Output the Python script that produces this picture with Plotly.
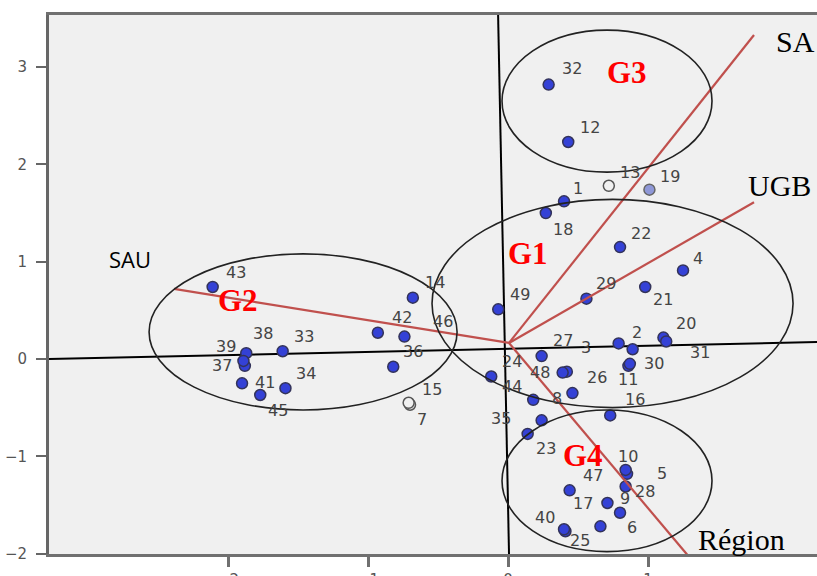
import plotly.graph_objects as go

# ---------------- data ----------------
point_ids = list(range(1, 50))
point_x = [0.40, 0.89, 0.79, 1.25, 0.85, 0.66, -0.70, 0.46, 0.80, 0.84,
           0.86, 0.43, 0.72, -0.68, -0.71, 0.73, 0.71, 0.27, 1.01, 1.11,
           0.98, 0.80, 0.14, -0.12, 0.41, 0.42, 0.24, 0.84, 0.56, 0.87,
           1.13, 0.29, -1.61, -1.59, 0.24, -0.82, -1.88, -1.87, -1.89, 0.40,
           -1.90, -0.93, -2.11, 0.18, -1.77, -0.74, 0.44, 0.39, -0.07]
point_y = [1.62, 0.10, 0.16, 0.91, -1.18, -1.72, -0.47, -0.35, -1.58, -1.14,
           -0.07, 2.23, 1.78, 0.63, -0.45, -0.58, -1.48, 1.50, 1.74, 0.22,
           0.74, 1.15, -0.77, -0.18, -1.77, -0.13, 0.03, -1.31, 0.62, -0.05,
           0.18, 2.82, 0.08, -0.30, -0.63, -0.08, -0.07, 0.06, -0.02, -1.75,
           -0.25, 0.27, 0.74, -0.42, -0.37, 0.23, -1.35, -0.14, 0.51]
hollow_ids = [7, 13, 15]
tinted_ids = [19]

group_names = ["G1", "G2", "G3", "G4"]
group_x0 = [-0.543, -2.564, -0.043, -0.043]
group_x1 = [2.036, -0.364, 1.457, 1.457]
group_y0 = [-0.50, -0.524, 1.92, -1.98]
group_y1 = [1.64, 1.08, 3.38, -0.524]
group_label_x = [0.143, -1.929, 0.85, 0.536]
group_label_y = [1.089, 0.606, 2.94, -0.987]

origin = (0.007, 0.165)
var_names = ["SA", "UGB", "SAU", "Région"]
var_x = [1.757, 1.757, -2.386, 1.279]
var_y = [3.33, 1.61, 0.72, -2.01]
var_label_x = [2.05, 1.936, -2.70, 1.671]
var_label_y = [3.258, 1.778, 1.028, -1.86]

axis_h_x = [-3.279, 2.207]
axis_h_y = [0.0, 0.175]
axis_v_x = [-0.071, 0.007]
axis_v_y = [3.535, -2.004]

x_ticks = [-2, -1, 0, 1]
y_ticks = [-2, -1, 0, 1, 2, 3]

# label offsets in screen pixels (dx right, dy down) - style only
label_offsets = {
    1: (14, -13), 2: (4, -17), 3: (-33, 4), 4: (15, -12), 5: (35, 0),
    6: (32, 1), 7: (12, 15), 8: (-15, 5), 9: (5, -14), 10: (2, -13),
    11: (0, 14), 12: (22, -14), 13: (21, -13), 14: (22, -15), 15: (23, -13),
    16: (25, -16), 17: (-24, 0), 18: (17, 16), 19: (21, -13), 20: (23, -14),
    21: (18, 13), 22: (21, -14), 23: (18, 15), 24: (21, -15), 25: (15, 9),
    26: (30, 6), 27: (21, -16), 28: (19, 5), 29: (20, -15), 30: (24, 0),
    31: (34, 11), 32: (23, -16), 33: (21, -15), 34: (21, -15), 35: (-41, -2),
    36: (20, -15), 37: (-23, 0), 38: (17, -20), 39: (-17, -14), 40: (-19, -12),
    41: (23, -1), 42: (24, -15), 43: (23, -14), 44: (-21, -13), 45: (18, 15),
    46: (39, -15), 47: (23, -15), 48: (-23, 0), 49: (22, -15),
}

# ---------------- figure ----------------
fig = go.Figure()

# biplot axes (black)
fig.add_trace(go.Scatter(x=axis_h_x, y=axis_h_y, mode="lines",
                         line=dict(color="black", width=2), hoverinfo="skip"))
fig.add_trace(go.Scatter(x=axis_v_x, y=axis_v_y, mode="lines",
                         line=dict(color="black", width=2), hoverinfo="skip"))

# points
fill_colors = []
line_colors = []
for pid in point_ids:
    if pid in hollow_ids:
        fill_colors.append("rgba(240,240,240,1)")
        line_colors.append("#555555")
    elif pid in tinted_ids:
        fill_colors.append("#8f98d8")
        line_colors.append("#666666")
    else:
        fill_colors.append("#3441d6")
        line_colors.append("#33335a")

fig.add_trace(go.Scatter(
    x=point_x, y=point_y, mode="markers",
    marker=dict(size=11, color=fill_colors,
                line=dict(color=line_colors, width=1.5)),
    hovertext=[str(p) for p in point_ids], hoverinfo="text"))

# variable vectors (red)
for vx, vy in zip(var_x, var_y):
    fig.add_trace(go.Scatter(x=[origin[0], vx], y=[origin[1], vy], mode="lines",
                             line=dict(color="#c0504d", width=2.2), hoverinfo="skip"))

# group ellipses
for x0, x1, y0, y1 in zip(group_x0, group_x1, group_y0, group_y1):
    fig.add_shape(type="circle", xref="x", yref="y", x0=x0, x1=x1, y0=y0, y1=y1,
                  line=dict(color="#222222", width=1.6), layer="above")

annotations = []
for pid, px, py in zip(point_ids, point_x, point_y):
    dx, dy = label_offsets[pid]
    annotations.append(dict(x=px, y=py, xref="x", yref="y", text=str(pid),
                            showarrow=False, xshift=dx, yshift=-dy,
                            font=dict(family="DejaVu Sans", size=16, color="#444444")))

for name, lx, ly in zip(group_names, group_label_x, group_label_y):
    annotations.append(dict(x=lx, y=ly, xref="x", yref="y", text="<b>%s</b>" % name,
                            showarrow=False,
                            font=dict(family="Liberation Serif", size=31, color="#ff0000")))

for name, lx, ly in zip(var_names, var_label_x, var_label_y):
    fam = "Open Sans" if name == "SAU" else "Liberation Serif"
    size = 22 if name == "SAU" else 30
    annotations.append(dict(x=lx, y=ly, xref="x", yref="y", text=name,
                            showarrow=False,
                            font=dict(family=fam, size=size, color="black")))

fig.update_layout(
    width=817, height=576,
    margin=dict(l=49, r=0, t=15, b=22),
    paper_bgcolor="white", plot_bgcolor="#f0f0f0",
    showlegend=False,
    annotations=annotations,
    xaxis=dict(range=[-3.279, 2.207], tickvals=x_ticks, showgrid=False, zeroline=False,
               automargin=False,
               showline=True, linecolor="#707070", linewidth=3, mirror=True,
               ticks="outside", ticklen=10, tickwidth=3, tickcolor="#707070",
               tickfont=dict(family="DejaVu Sans", size=15, color="#555555")),
    yaxis=dict(range=[-2.004, 3.535], tickvals=y_ticks, showgrid=False, zeroline=False,
               automargin=False,
               showline=True, linecolor="#666666", linewidth=3,
               ticks="outside", ticklen=10, tickwidth=2, tickcolor="#666666",
               ticklabelstandoff=6,
               tickfont=dict(family="DejaVu Sans", size=15, color="#555555")),
)

fig.write_html(
    "out.html",
    config={"displayModeBar": False},
    post_script="document.body.style.margin='0';document.body.style.overflow='hidden';",
)
